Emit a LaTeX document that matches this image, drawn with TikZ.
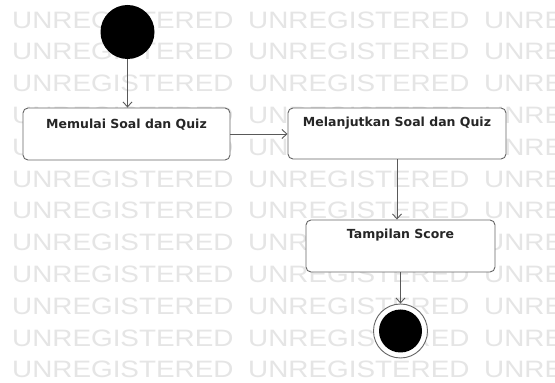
\documentclass[tikz,border=0pt]{standalone}
\usepackage{fontspec}
\usepackage{graphicx}
\setmainfont{DejaVu Sans}
\newfontfamily\wmfont{Liberation Sans}
\usetikzlibrary{arrows.meta}
\begin{document}
\begin{tikzpicture}[x=1pt,y=1pt,
  wm/.style={anchor=west, inner sep=0pt, text=black!10, font=\wmfont\fontsize{23.7}{24}\selectfont},
  box/.style={draw=black!60, line width=0.9pt, rounded corners=5pt, fill=white, minimum height=52pt, inner sep=0pt},
  lbl/.style={font=\bfseries\fontsize{12.5}{14}\selectfont, text=black!85, inner sep=0pt},
  flow/.style={draw=black!65, line width=0.9pt, -{Straight Barb[length=5pt,width=9pt]}},
  startnode/.style={circle, fill=black, minimum size=54pt, inner sep=0pt},
  endring/.style={circle, draw=black!60, line width=0.9pt, fill=white, minimum size=54pt, inner sep=0pt},
  enddot/.style={circle, fill=black, minimum size=43pt, inner sep=0pt}
]
\useasboundingbox (0,0) rectangle (555,383);
\fill[white] (0,0) rectangle (555,383);
\foreach \i in {0,...,11} {
  \foreach \x [count=\j] in {12,248,484} {
    \node[wm] (wm\i-\j) at (\x, {383-20-31.8*\i}) {\scalebox{1.175}[1]{UNREGISTERED}};
  }
}
% nodes
\node[startnode] (s) at (127.5,351) {};
\node[box, minimum width=207pt] (b1) at (126.5,249) {};
\node[lbl] (t1) at ([yshift=9pt]b1.center) {Memulai Soal dan Quiz};
\node[box, minimum width=218pt, minimum height=51pt] (b2) at (397,249.5) {};
\node[lbl] (t2) at ([yshift=10pt]b2.center) {Melanjutkan Soal dan Quiz};
\node[box, minimum width=189pt] (b3) at (400.5,137) {};
\node[lbl] (t3) at ([yshift=11pt]b3.center) {Tampilan Score};
\node[endring] (e) at (400.5,52) {};
\node[enddot] (ed) at (e.center) {};
% connectors
\draw[flow] (s.south) -- (s.south |- b1.north);
\draw[flow] (b1.east) -- (b1.east -| b2.west);
\draw[flow] (b2.south) -- (b2.south |- b3.north);
\draw[flow] (b3.south) -- (b3.south |- e.north);
\end{tikzpicture}
\end{document}
